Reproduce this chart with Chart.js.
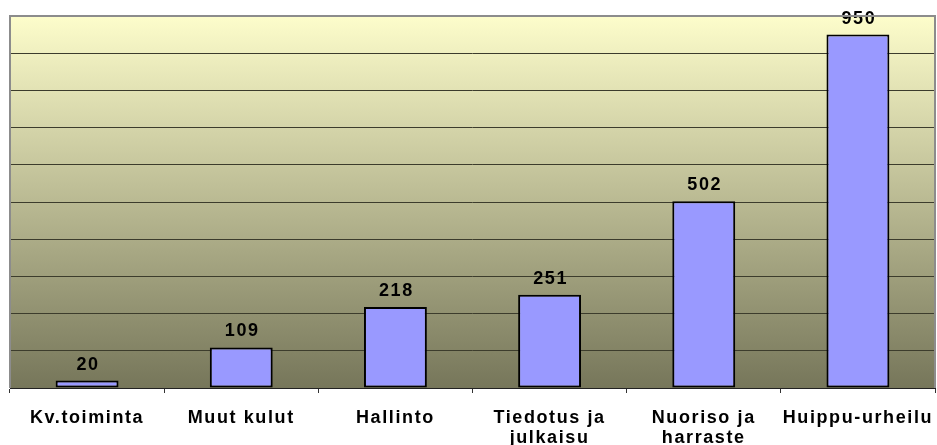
<!DOCTYPE html>
<html lang="fi">
<head>
    <meta charset="UTF-8">
    <title>Menot</title>
    <script src="https://cdn.jsdelivr.net/npm/chart.js"></script>
    <style>
        body {
            margin: 0;
            padding: 0;
            background: #fff;
        }
        #wrap {
            width: 937px;
            height: 445px;
        }
    </style>
</head>
<body>
    <div id="wrap"><canvas id="chart"></canvas></div>

    <script>
        // Chart data
        const categories = ['Kv.toiminta', 'Muut kulut', 'Hallinto', ['Tiedotus ja', 'julkaisu'], ['Nuoriso ja', 'harraste'], 'Huippu-urheilu'];
        const values = [20, 109, 218, 251, 502, 950];
        const yMax = 1000;
        const yStep = 100;

        const FONT = '"Liberation Sans", Arial, sans-serif';
        const SPACING = '1.6px';

        // wide text like the original (canvas resets state on resize, so set it every time)
        const wideText = {
            id: 'wideText',
            beforeLayout(chart) { chart.ctx.letterSpacing = SPACING; },
            beforeDraw(chart) { chart.ctx.letterSpacing = SPACING; }
        };

        // Gradient background inside the plot area + gray frame
        const plotBackground = {
            id: 'plotBackground',
            beforeDraw(chart) {
                const { ctx, chartArea: a } = chart;
                const g = ctx.createLinearGradient(0, a.top, 0, a.bottom);
                g.addColorStop(0, '#fdfdcb');
                g.addColorStop(1, '#76765a');
                ctx.save();
                ctx.fillStyle = g;
                ctx.fillRect(a.left, a.top, a.right - a.left, a.bottom - a.top);
                ctx.restore();
            },
            afterDraw(chart) {
                const { ctx, chartArea: a } = chart;
                ctx.save();
                ctx.strokeStyle = '#8c8c8c';
                ctx.lineWidth = 2;
                ctx.beginPath();
                ctx.moveTo(a.left, a.bottom);
                ctx.lineTo(a.left, a.top);
                ctx.lineTo(a.right, a.top);
                ctx.lineTo(a.right, a.bottom);
                ctx.stroke();
                ctx.restore();
            }
        };

        // Value labels above bars
        const valueLabels = {
            id: 'valueLabels',
            afterDatasetsDraw(chart) {
                const { ctx } = chart;
                const meta = chart.getDatasetMeta(0);
                ctx.save();
                ctx.letterSpacing = SPACING;
                ctx.font = 'bold 18px ' + FONT;
                ctx.fillStyle = '#000';
                ctx.textAlign = 'center';
                ctx.textBaseline = 'alphabetic';
                meta.data.forEach((bar, i) => {
                    ctx.fillText(values[i], bar.x + 1, bar.y - 11);
                });
                ctx.restore();
            }
        };

        const ctx = document.getElementById('chart').getContext('2d');
        new Chart(ctx, {
            type: 'bar',
            data: {
                labels: categories,
                datasets: [{
                    data: values,
                    backgroundColor: '#9999ff',
                    borderColor: '#000',
                    borderWidth: 2,
                    borderSkipped: false,
                    categoryPercentage: 0.8,
                    barPercentage: 0.51
                }]
            },
            options: {
                responsive: true,
                maintainAspectRatio: false,
                animation: false,
                layout: {
                    padding: { left: 10, right: 2, top: 16, bottom: 0 }
                },
                plugins: {
                    legend: { display: false },
                    tooltip: { enabled: false }
                },
                scales: {
                    x: {
                        offset: true,
                        grid: {
                            offset: true,
                            drawOnChartArea: false,
                            tickLength: 5,
                            color: '#333'
                        },
                        border: { color: '#222', width: 1 },
                        ticks: {
                            color: '#000',
                            padding: 15,
                            maxRotation: 0,
                            autoSkip: false,
                            font: { family: FONT, size: 18, weight: 'bold', lineHeight: 1.12 }
                        },
                        afterFit(scale) {
                            scale.height = 57;
                            scale.paddingLeft = 0;
                            scale.paddingRight = 0;
                        }
                    },
                    y: {
                        min: 0,
                        max: yMax,
                        ticks: { display: false, stepSize: yStep },
                        grid: { color: '#3c3c2c', lineWidth: 1, drawTicks: false },
                        border: { display: false }
                    }
                }
            },
            plugins: [wideText, plotBackground, valueLabels]
        });
    </script>
</body>
</html>
